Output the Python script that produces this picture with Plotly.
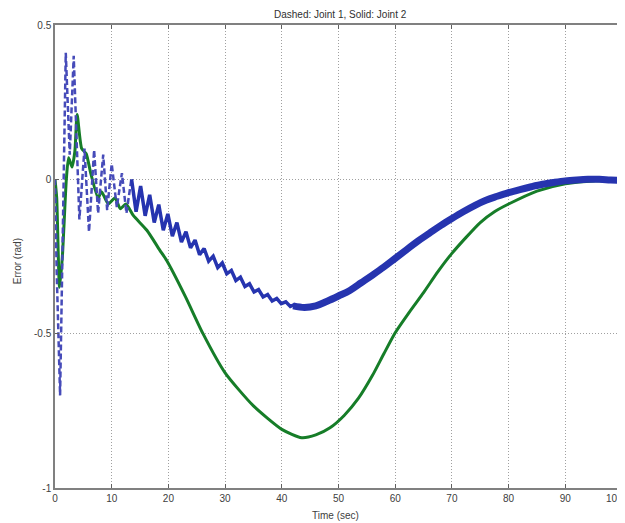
import plotly.graph_objects as go

# Joint 1 (dashed) - early oscillating part
j1_early_t = [0, 0.3, 0.9, 1.9, 2.6, 3.3, 4.3, 5.2, 6.0, 6.9, 7.6, 8.5, 9.2, 10.0, 10.9, 11.8, 12.6, 13.5]
j1_early_v = [0, -0.30, -0.70, 0.41, 0.08, 0.40, -0.13, 0.10, -0.17, 0.095, -0.11, 0.08, -0.10, 0.05, -0.09, 0.02, -0.11, 0.005]

# Joint 1 - decaying ripple part
j1_mid_t = [13.5, 14.3, 15.1, 15.9, 16.7, 17.5, 18.3, 19.1, 19.9, 20.7, 21.5, 22.3, 23.1, 23.9,
            24.7, 25.5, 26.3, 27.1, 27.9, 28.7, 29.5, 30.3, 31.1, 31.9, 32.7, 33.5, 34.3, 35.1,
            35.9, 36.7, 37.5, 38.3, 39.1, 39.9, 40.7, 41.5, 42.3]
j1_mid_v = [0.000, -0.105, -0.022, -0.118, -0.050, -0.140, -0.082, -0.165, -0.112, -0.184, -0.140,
            -0.203, -0.170, -0.222, -0.197, -0.244, -0.224, -0.265, -0.249, -0.286, -0.271, -0.306,
            -0.295, -0.328, -0.317, -0.347, -0.338, -0.365, -0.357, -0.381, -0.373, -0.394, -0.386,
            -0.403, -0.397, -0.412, -0.405]

# Joint 1 - late part (dense ripple seen as a thick band)
j1_late_t = [42, 44, 46, 48, 50, 52, 54, 56, 58, 60, 62, 64, 66, 68, 70, 72, 74, 76, 78, 80,
             82, 84, 86, 88, 90, 92, 94, 96, 98, 100]
j1_late_v = [-0.410, -0.415, -0.410, -0.395, -0.378, -0.360, -0.335, -0.310, -0.284, -0.256,
             -0.228, -0.200, -0.175, -0.150, -0.127, -0.105, -0.085, -0.068, -0.055, -0.043,
             -0.033, -0.024, -0.016, -0.010, -0.005, -0.002, 0.000, 0.000, -0.002, -0.003]

# Joint 2 (solid)
j2_t = [0, 0.3, 0.8, 1.3, 2.0, 2.4, 3.0, 3.5, 3.9, 4.7, 5.5, 6.3, 7.6, 8.2, 9.4, 10.6, 11.5,
        12.5, 13.8, 16.2, 18.5, 19.7, 23, 26.1, 30, 35, 40, 43.5, 46, 48.5, 51, 53.5, 56,
        58, 60, 62.5, 65, 67.5, 70, 72.5, 75, 77.5, 80, 85, 90, 95, 100]
j2_v = [0.0, -0.06, -0.35, -0.25, 0.0, 0.07, 0.04, 0.09, 0.21, 0.10, 0.083, 0.02, -0.06, -0.04,
        -0.08, -0.06, -0.095, -0.08, -0.117, -0.165, -0.23, -0.263, -0.38, -0.50, -0.627, -0.734,
        -0.81, -0.837, -0.828, -0.805, -0.765, -0.71, -0.635, -0.565, -0.497, -0.43, -0.367,
        -0.30, -0.24, -0.188, -0.14, -0.105, -0.08, -0.038, -0.014, -0.005, -0.008]

x_ticks = [0, 10, 20, 30, 40, 50, 60, 70, 80, 90, 100]
x_tick_text = ["0", "10", "20", "30", "40", "50", "60", "70", "80", "90", ""]
last_x_label = "100"
y_ticks = [-1, -0.5, 0, 0.5]
y_tick_text = ["-1", "-0.5", "0", "0.5"]

BLUE = "rgb(38,52,175)"
GREEN = "rgb(22,125,40)"
TXT = "#404040"
FONT = "Liberation Sans, Arial, sans-serif"

fig = go.Figure()
fig.add_trace(go.Scatter(x=j2_t, y=j2_v, mode="lines",
                         line=dict(color=GREEN, width=3, shape="spline", smoothing=0.6), name="Joint 2"))
fig.add_trace(go.Scatter(x=j1_early_t, y=j1_early_v, mode="lines",
                         line=dict(color="rgb(70,75,185)", width=2.5, dash="6px,3px"), name="Joint 1"))
fig.add_trace(go.Scatter(x=j1_mid_t, y=j1_mid_v, mode="lines",
                         line=dict(color=BLUE, width=3.5), name="Joint 1"))
fig.add_trace(go.Scatter(x=j1_late_t, y=j1_late_v, mode="lines",
                         line=dict(color=BLUE, width=7, shape="spline"), name="Joint 1"))

axis_common = dict(showline=True, linecolor="#808080", linewidth=1.5, mirror="ticks",
                   ticks="inside", ticklen=4, tickcolor="#606060",
                   showgrid=True, gridcolor="#a0a0a0", griddash="1px,2px", gridwidth=1,
                   zeroline=False, automargin=False,
                   tickfont=dict(size=10, color=TXT, family=FONT))

fig.update_xaxes(range=[0, 100], tickvals=x_ticks, ticktext=x_tick_text, **axis_common)
fig.update_yaxes(range=[-1, 0.5], tickvals=y_ticks, ticktext=y_tick_text, **axis_common)

# page body has an 8px margin, so the figure is sized/offset to compensate
fig.update_layout(
    width=617, height=515,
    margin=dict(l=47, r=3, t=17, b=35),
    paper_bgcolor="white", plot_bgcolor="white",
    font=dict(family=FONT),
    showlegend=False,
    annotations=[
        dict(text="Dashed: Joint 1, Solid: Joint 2", xref="paper", yref="paper",
             x=0.503, y=1, yshift=11, xanchor="center", yanchor="middle", showarrow=False,
             font=dict(size=10, color="#303030", family=FONT)),
        dict(text="Time (sec)", xref="paper", yref="paper",
             x=0.494, y=0, yshift=-27, xanchor="center", yanchor="middle", showarrow=False,
             font=dict(size=10, color=TXT, family=FONT)),
        dict(text="Error (rad)", xref="paper", yref="paper", textangle=-90,
             x=0, xshift=-38, y=0.49, xanchor="center", yanchor="middle", showarrow=False,
             font=dict(size=10, color=TXT, family=FONT)),
        dict(text=last_x_label, xref="x", yref="paper", x=x_ticks[-1], xshift=3,
             y=0, yshift=-10, xanchor="right", yanchor="middle", showarrow=False,
             font=dict(size=10, color=TXT, family=FONT)),
    ],
)

fig.write_html("out.html")
